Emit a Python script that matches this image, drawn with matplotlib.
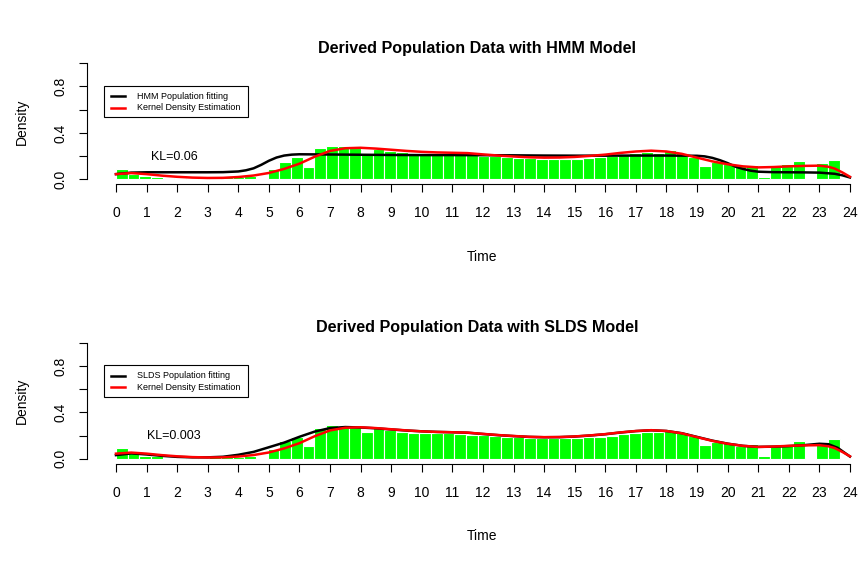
import numpy as np
import matplotlib.pyplot as plt
from matplotlib.lines import Line2D
from matplotlib.patches import Rectangle

plt.rcParams['font.family'] = ['Liberation Sans', 'DejaVu Sans']

W, H = 858, 571

# histogram of the observed times: equal bins from 0 up to the last observation
bin_count = 62
t_last = 23.66
bar_density = [
    0.093, 0.048, 0.027, 0.021, 0.000, 0.008, 0.010, 0.010, 0.012, 0.016,
    0.020, 0.027, 0.004, 0.085, 0.150, 0.192, 0.109, 0.267, 0.288, 0.283,
    0.272, 0.229, 0.264, 0.245, 0.235, 0.224, 0.219, 0.219, 0.219, 0.215,
    0.208, 0.205, 0.200, 0.192, 0.187, 0.181, 0.179, 0.176, 0.176, 0.179,
    0.184, 0.192, 0.200, 0.211, 0.224, 0.235, 0.227, 0.251, 0.227, 0.195,
    0.117, 0.147, 0.133, 0.115, 0.125, 0.021, 0.115, 0.128, 0.157, 0.005,
    0.141, 0.168,
]

# kernel density estimate (same in both panels)
kde_t = [0, 0.5, 1, 1.5, 2, 2.5, 3, 3.5, 4, 4.5, 5, 5.5, 6, 6.5, 7, 7.5, 8,
         8.5, 9, 9.5, 10, 10.5, 11, 11.5, 12, 12.5, 13, 13.5, 14, 14.5, 15,
         15.5, 16, 16.5, 17, 17.5, 18, 18.5, 19, 19.5, 20, 20.5, 21, 21.5,
         22, 22.5, 23, 23.3, 23.5, 23.75, 24]
kde_y = [0.045, 0.054, 0.045, 0.032, 0.022, 0.015, 0.012, 0.013, 0.020,
         0.033, 0.055, 0.090, 0.135, 0.195, 0.245, 0.268, 0.272, 0.265,
         0.255, 0.245, 0.237, 0.232, 0.229, 0.226, 0.215, 0.205, 0.197,
         0.190, 0.187, 0.188, 0.193, 0.202, 0.213, 0.228, 0.240, 0.247,
         0.240, 0.220, 0.187, 0.155, 0.130, 0.112, 0.103, 0.106, 0.112,
         0.116, 0.118, 0.108, 0.093, 0.060, 0.022]

# HMM population fit
hmm_t = [0, 0.5, 1, 2, 3, 3.5, 4, 4.25, 4.5, 4.75, 5, 5.25, 5.5, 5.75, 6,
         7, 8, 9, 10, 11, 12, 13, 14, 15, 16, 17, 18, 19, 19.25, 19.5,
         19.75, 20, 20.25, 20.5, 20.75, 21, 21.5, 22, 22.5, 23, 23.5, 23.75,
         24]
hmm_y = [0.045, 0.058, 0.061, 0.061, 0.061, 0.062, 0.068, 0.078, 0.095,
         0.125, 0.160, 0.188, 0.205, 0.213, 0.216, 0.214, 0.212, 0.210,
         0.209, 0.209, 0.208, 0.207, 0.205, 0.204, 0.204, 0.205, 0.205,
         0.203, 0.198, 0.185, 0.165, 0.140, 0.110, 0.090, 0.075, 0.066,
         0.062, 0.061, 0.060, 0.058, 0.048, 0.035, 0.016]

# SLDS population fit
slds_t = [0, 0.5, 1, 1.5, 2, 2.5, 3, 3.5, 4, 4.5, 5, 5.5, 6, 6.5, 7, 7.5, 8,
          8.5, 9, 9.5, 10, 10.5, 11, 11.5, 12, 12.5, 13, 13.5, 14, 14.5, 15,
          15.5, 16, 16.5, 17, 17.5, 18, 18.5, 19, 19.5, 20, 20.5, 21, 21.5,
          22, 22.5, 23, 23.3, 23.6, 24]
slds_y = [0.032, 0.047, 0.038, 0.026, 0.017, 0.013, 0.013, 0.018, 0.035,
          0.060, 0.100, 0.140, 0.190, 0.235, 0.265, 0.274, 0.270, 0.263,
          0.253, 0.244, 0.237, 0.232, 0.229, 0.225, 0.214, 0.204, 0.196,
          0.189, 0.186, 0.187, 0.192, 0.201, 0.212, 0.227, 0.239, 0.246,
          0.240, 0.221, 0.189, 0.157, 0.131, 0.112, 0.103, 0.105, 0.110,
          0.118, 0.130, 0.126, 0.095, 0.020]

titles = ["Derived Population Data with HMM Model",
          "Derived Population Data with SLDS Model"]
fit_names = ["HMM Population fitting", "SLDS Population fitting"]
fits = [(hmm_t, hmm_y), (slds_t, slds_y)]
kl_labels = ["KL=0.06", "KL=0.003"]

x_ticks = list(range(0, 25))
y_ticks = [0.0, 0.2, 0.4, 0.6, 0.8, 1.0]
y_tick_labels = ["0.0", "", "0.4", "", "0.8", ""]


def fx(px):
    return px / W


def fy(py):
    return 1 - py / H


fig = plt.figure(figsize=(W / 100, H / 100), dpi=100)
edges = np.linspace(0, t_last, bin_count + 1)

# vertical offset of each panel (pixels from the top)
panel_off = [6, 285.5]

for i in range(2):
    off = panel_off[i]
    ax = fig.add_axes([fx(86.6), fy(178.0 + off), (879.3 - 86.6) / W, 125.4 / H])
    ax.set_xlim(-0.96, 24.96)
    ax.set_ylim(-0.04, 1.04)

    ax.bar(edges[:-1], bar_density, width=np.diff(edges), align='edge',
           color='#00ff00', edgecolor='white', linewidth=0.8)
    ax.plot(fits[i][0], fits[i][1], color='black', lw=1.8)
    ax.plot(kde_t, kde_y, color='red', lw=1.8)

    for s in ['top', 'right']:
        ax.spines[s].set_visible(False)
    ax.spines['bottom'].set_bounds(0, 24)
    ax.spines['left'].set_bounds(0, 1)
    ax.spines['bottom'].set_linewidth(0.8)
    ax.spines['left'].set_linewidth(0.8)

    ax.set_xticks(x_ticks)
    ax.set_xticklabels([str(t) for t in x_ticks])
    ax.set_yticks(y_ticks)
    ax.set_yticklabels(y_tick_labels)
    ax.tick_params(axis='both', length=6.1, width=0.8, labelsize=10)
    ax.tick_params(axis='x', pad=10)
    ax.tick_params(axis='y', pad=8, labelrotation=90)
    for lab in ax.get_yticklabels():
        lab.set_va('center')

    ax.text(1.9, 0.195, kl_labels[i], ha='center', va='center', fontsize=9)

    fig.text(fx(477), fy(42 + off), titles[i], ha='center', va='center',
             fontsize=11.6, fontweight='bold')
    fig.text(fx(482), fy(251 + off), "Time", ha='center', va='center', fontsize=10)
    fig.text(fx(21.7), fy(115.5 + off), "Density", ha='center', va='center',
             rotation=90, fontsize=10)

    # legend box
    fig.add_artist(Rectangle((fx(104), fy(111.5 + off)), (248 - 104) / W,
                             (111.5 - 79.9) / H, transform=fig.transFigure,
                             fill=False, edgecolor='black', lw=0.8))
    for name, col, ry in [(fit_names[i], 'black', 90.4), ("Kernel Density Estimation", 'red', 101.6)]:
        fig.add_artist(Line2D([fx(111), fx(125)], [fy(ry + off)] * 2,
                              transform=fig.transFigure, color=col, lw=1.8))
        fig.text(fx(137), fy(ry + off), name, ha='left', va='center', fontsize=6.5)

fig.savefig("out.png", dpi=100)
